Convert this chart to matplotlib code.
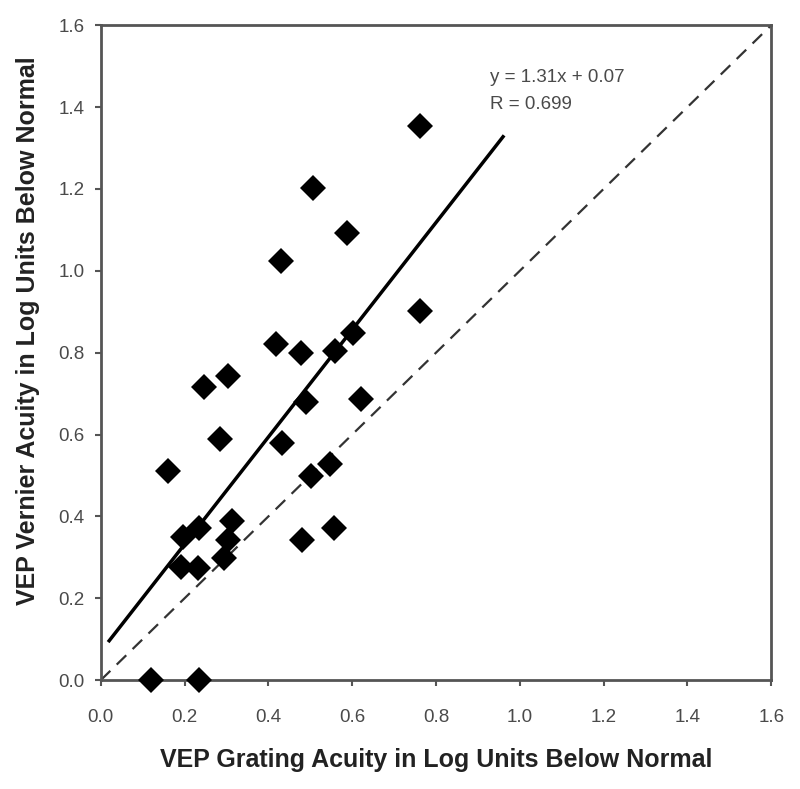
import matplotlib
matplotlib.use("Agg")
import matplotlib.pyplot as plt
import numpy as np

# VEP grating vs vernier acuity (log units below normal)
grating = [0.762, 0.506, 0.587, 0.431, 0.763, 0.161, 0.247, 0.304, 0.284,
           0.419, 0.477, 0.560, 0.601, 0.489, 0.622, 0.433, 0.547, 0.501,
           0.314, 0.234, 0.197, 0.304, 0.479, 0.557, 0.295, 0.191, 0.231,
           0.121, 0.234]
vernier = [1.355, 1.203, 1.093, 1.023, 0.902, 0.510, 0.715, 0.742, 0.590,
           0.820, 0.800, 0.804, 0.847, 0.680, 0.686, 0.580, 0.529, 0.498,
           0.388, 0.372, 0.350, 0.343, 0.343, 0.372, 0.299, 0.277, 0.273,
           0.0, 0.0]

slope = 1.31
intercept = 0.07
r_value = 0.699
fit_range = [0.02, 0.96]
ticks = [0.0, 0.2, 0.4, 0.6, 0.8, 1.0, 1.2, 1.4, 1.6]

plt.rcParams['font.family'] = ['Liberation Sans', 'DejaVu Sans']

fig = plt.figure(figsize=(8, 7.89), dpi=100)
ax = fig.add_axes([0.126, 0.138, 0.838, 0.830])

axis_grey = "#555555"
text_grey = "#4a4a4a"

# identity line
ax.plot([0, 1.6], [0, 1.6], color="#333333", lw=1.6, ls=(0, (6, 4)), zorder=1)

# regression line
fx = np.array(fit_range)
ax.plot(fx, slope * fx + intercept, color="black", lw=2.5, zorder=2)

ax.plot(grating, vernier, "D", color="black", markersize=13.5,
        markeredgewidth=0, clip_on=False, zorder=3)

ax.text(0.929, 1.473, f"y = {slope}x + {intercept}", fontsize=13.5,
        color=text_grey, va="center")
ax.text(0.929, 1.406, f"R = {r_value}", fontsize=13.5, color=text_grey,
        va="center")

ax.set_xlim(0, 1.6)
ax.set_ylim(0, 1.6)
ax.set_xticks(ticks)
ax.set_yticks(ticks)
ax.set_xticklabels([f"{t:.1f}" for t in ticks])
ax.set_yticklabels([f"{t:.1f}" for t in ticks])

for spine in ax.spines.values():
    spine.set_color(axis_grey)
    spine.set_linewidth(2)

ax.tick_params(direction="out", length=4, width=1.5, color=axis_grey,
               labelsize=13.5, labelcolor=text_grey)
ax.tick_params(axis="x", pad=17)
ax.tick_params(axis="y", pad=7.5)

ax.set_xlabel("VEP Grating Acuity in Log Units Below Normal",
              fontsize=18, fontweight="bold", color="#222222", va="center")
ax.set_ylabel("VEP Vernier Acuity in Log Units Below Normal",
              fontsize=18, fontweight="bold", color="#222222", va="center")
ax.xaxis.set_label_coords(0.5, -0.122)
ax.yaxis.set_label_coords(-0.109, 0.533)

fig.savefig("out.png", dpi=100, facecolor="white")
plt.close(fig)
